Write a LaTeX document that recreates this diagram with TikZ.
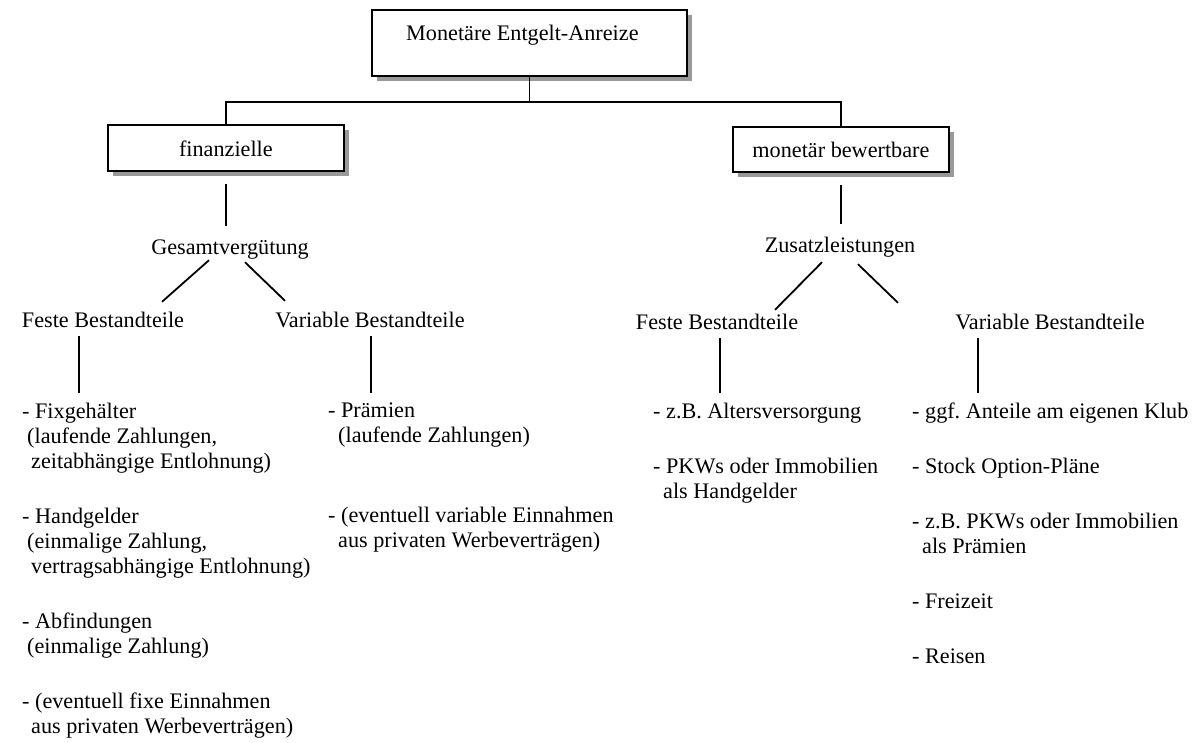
\documentclass[tikz,border=0pt]{standalone}
\usepackage{fontspec}
\setmainfont{Liberation Serif}
\usetikzlibrary{shadows}
\definecolor{shadowgray}{HTML}{999999}
\frenchspacing

\begin{document}
\begin{tikzpicture}[
  x=1pt, y=1pt,
  font=\fontsize{22.2pt}{25pt}\selectfont,
  box/.style={draw, line width=1.8pt, fill=white, inner sep=0pt,
    drop shadow={shadow xshift=5pt, shadow yshift=-5pt, fill=shadowgray, opacity=1}},
  lbl/.style={inner sep=0pt, text height=15pt, text depth=5pt, anchor=base},
  list/.style={inner sep=0pt, align=left, anchor=north west},
  conn/.style={line width=1.8pt},
  stem/.style={conn, shorten <=4pt, shorten >=10pt}
]
\useasboundingbox (0,0) rectangle (1196,-742);

% boxes
\node[box, anchor=north west, minimum width=315pt, text height=31pt, text depth=35pt] (root) at (371,-9) {\hspace*{-14pt}Monetäre Entgelt-Anreize};
\node[box, anchor=north west, minimum width=236pt, text height=32pt, text depth=14pt] (fin) at (107,-124) {finanzielle};
\node[box, anchor=north west, minimum width=216pt, text height=31pt, text depth=14pt] (mon) at (732,-126) {monetär bewertbare};

% second level
\node[lbl] (gesamt) at (230,-254) {Gesamtvergütung};
\node[lbl] (zusatz) at (840,-252) {Zusatzleistungen};
\node[lbl] (festeL) at (103,-327) {Feste Bestandteile};
\node[lbl] (varL) at (370,-327) {Variable Bestandteile};
\node[lbl] (festeR) at (717,-329) {Feste Bestandteile};
\node[lbl] (varR) at (1050,-329) {Variable Bestandteile};

% lists
\node[list] (fixL) at (22,-403) {- Fixgehälter\\
  \hspace*{5pt}(laufende Zahlungen,\\
  \hspace*{9pt}zeitabhängige Entlohnung)\\[30pt]
  - Handgelder\\
  \hspace*{5pt}(einmalige Zahlung,\\
  \hspace*{9pt}vertragsabhängige Entlohnung)\\[30pt]
  - Abfindungen\\
  \hspace*{5pt}(einmalige Zahlung)\\[30pt]
  - (eventuell fixe Einnahmen\\
  \hspace*{9pt}aus privaten Werbeverträgen)};
\node[list] (premL) at (328,-403) {- Prämien\\
  \hspace*{10pt}(laufende Zahlungen)\\[55pt]
  - (eventuell variable Einnahmen\\
  \hspace*{10pt}aus privaten Werbeverträgen)};
\node[list] (festeRL) at (653,-403) {- z.B. Altersversorgung\\[30pt]
  - PKWs oder Immobilien\\
  \hspace*{10pt}als Handgelder};
\node[list] (varRL) at (912,-403) {- ggf. Anteile am eigenen Klub\\[30pt]
  - Stock Option-Pläne\\[30pt]
  - z.B. PKWs oder Immobilien\\
  \hspace*{10pt}als Prämien\\[30pt]
  - Freizeit\\[30pt]
  - Reisen};

% connectors
\draw[conn] (root.south) -- ++(0,-25) -| (fin.north);
\draw[conn] (root.south) -- ++(0,-25) -| (mon.north);
\draw[conn, shorten <=12pt, shorten >=13pt] (fin.south) -- (fin.south |- gesamt.north);
\draw[conn, shorten <=12pt, shorten >=13pt] (mon.south) -- (mon.south |- zusatz.north);

\draw[conn] ([xshift=-21pt,yshift=-1pt]gesamt.south) -- ([xshift=59pt,yshift=10pt]festeL.north);
\draw[conn] ([xshift=15pt,yshift=-3pt]gesamt.south) -- ([xshift=-85pt,yshift=11pt]varL.north);
\draw[conn] ([xshift=-18pt,yshift=-5pt]zusatz.south) -- ([xshift=58pt,yshift=4pt]festeR.north);
\draw[conn] ([xshift=18pt,yshift=-7pt]zusatz.south) -- ([xshift=-152pt,yshift=11pt]varR.north);

\draw[stem] ([xshift=-24pt]festeL.south) -- ([xshift=-24pt]festeL.south |- fixL.north);
\draw[stem] ([xshift=1pt]varL.south) -- ([xshift=1pt]varL.south |- premL.north);
\draw[stem] ([xshift=3pt]festeR.south) -- ([xshift=3pt]festeR.south |- festeRL.north);
\draw[stem] ([xshift=-72pt]varR.south) -- ([xshift=-72pt]varR.south |- varRL.north);
\end{tikzpicture}
\end{document}
